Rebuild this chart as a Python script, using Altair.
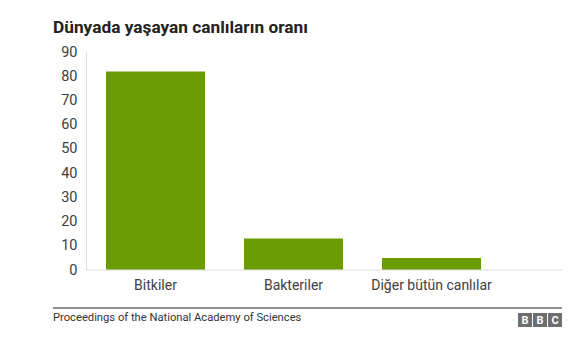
import altair as alt
import pandas as pd

categories = ["Bitkiler", "Bakteriler", "Diğer bütün canlılar"]
values = [82, 13, 5]
title_text = "Dünyada yaşayan canlıların oranı"
source_text = "Proceedings of the National Academy of Sciences"
logo_letters = ["B", "B", "C"]

FONT = "Roboto"
GREEN = "#6a9b00"
W, H = 476, 218

df = pd.DataFrame({"cat": categories, "val": values})
one = pd.DataFrame({"k": [0]})

bars = alt.Chart(df).mark_bar(color=GREEN).encode(
    x=alt.X("cat:N", sort=categories, title=None,
            scale=alt.Scale(range=[0, 415], paddingInner=0.2826, paddingOuter=0.145),
            axis=alt.Axis(labelAngle=0, ticks=False, domain=False, labelPadding=8,
                          labelFont=FONT, labelFontSize=14, labelColor="#404040")),
    y=alt.Y("val:Q", title=None,
            scale=alt.Scale(domain=[0, 90], nice=False),
            axis=alt.Axis(values=list(range(0, 91, 10)), ticks=False, grid=False,
                          labelOverlap=False,
                          domain=True, domainColor="#dddddd", labelPadding=9,
                          labelFont=FONT, labelFontSize=14.5, labelColor="#404040")),
)

baseline = alt.Chart(one).mark_rule(color="#dddddd", strokeWidth=1).encode(
    y=alt.value(H), x=alt.value(0), x2=alt.value(W)
)

title = alt.Chart(one).mark_text(
    text=title_text, font=FONT, fontSize=17.3, fontWeight="bold", color="#222222",
    align="left", baseline="middle"
).encode(x=alt.value(-33), y=alt.value(-24))

footer_rule = alt.Chart(one).mark_rule(color="#222222", strokeWidth=1).encode(
    x=alt.value(-33), x2=alt.value(W), y=alt.value(256)
)

source = alt.Chart(one).mark_text(
    text=source_text, font=FONT, fontSize=11.2, color="#333333",
    align="left", baseline="middle"
).encode(x=alt.value(-33), y=alt.value(266))

logo_layers = []
for i, letter in enumerate(logo_letters):
    x0 = 432 + i * 15
    logo_layers.append(
        alt.Chart(one).mark_rect(color="#6e6e6e").encode(
            x=alt.value(x0), x2=alt.value(x0 + 14), y=alt.value(261), y2=alt.value(275)
        )
    )
    logo_layers.append(
        alt.Chart(one).mark_text(
            text=letter, font=FONT, fontSize=11, fontWeight="bold", color="white",
            align="center", baseline="middle"
        ).encode(x=alt.value(x0 + 7), y=alt.value(268.5))
    )

chart = alt.layer(bars, baseline, title, footer_rule, source, *logo_layers).properties(
    width=W, height=H,
    autosize=alt.AutoSizeParams(type="none"),
    padding={"left": 86, "top": 52, "right": 26, "bottom": 83},
).configure_view(stroke=None)

chart.save("out.html", embed_options={"renderer": "svg", "actions": False})
